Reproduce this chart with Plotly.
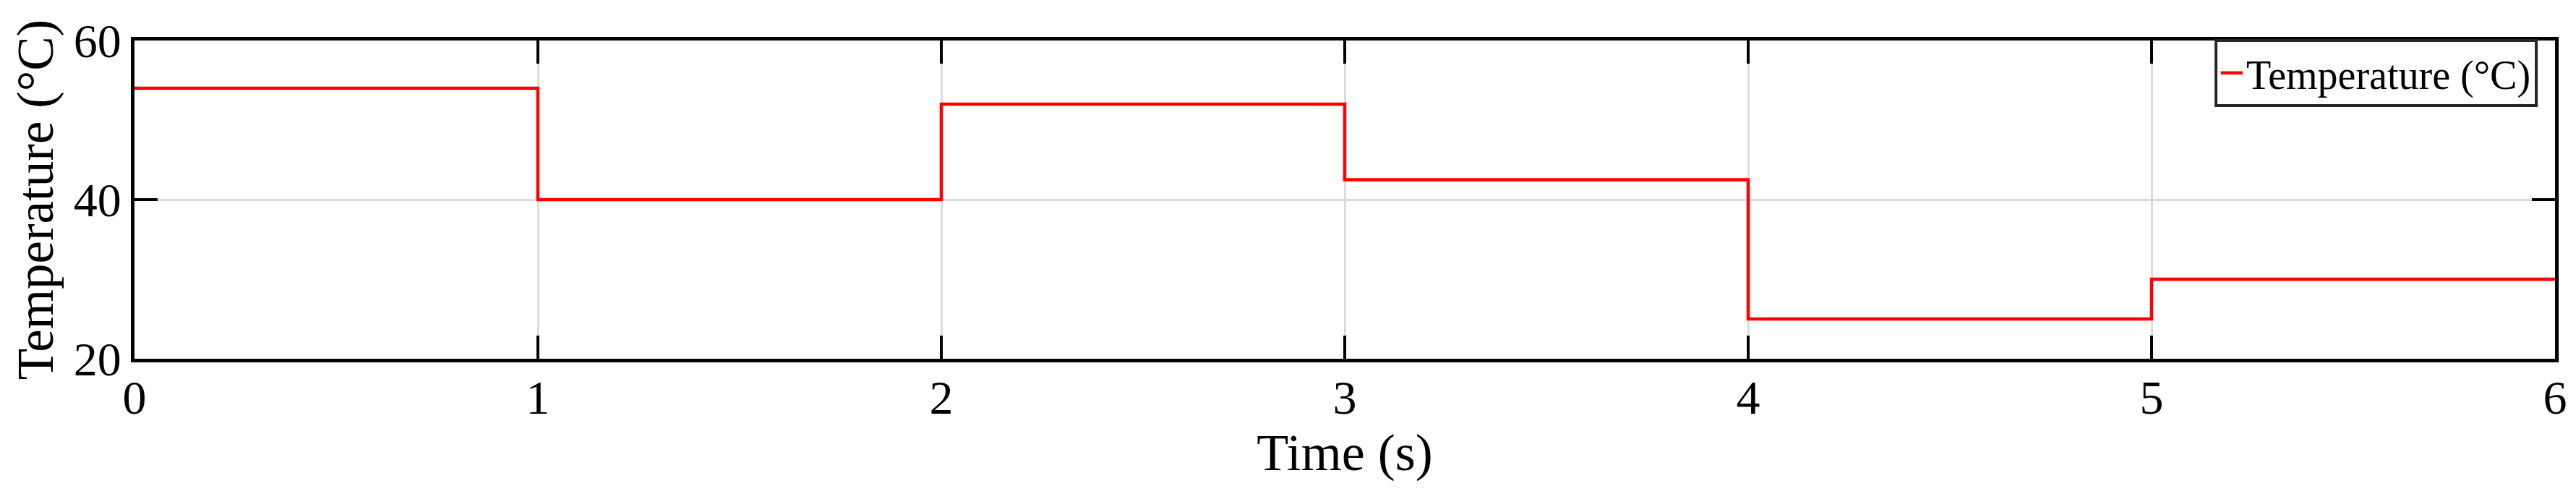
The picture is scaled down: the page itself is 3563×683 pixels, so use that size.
import plotly.graph_objects as go

# step change instants (s) and the temperature held after each one (°C)
time_s = [0, 1, 2, 3, 4, 5, 6]
temp_c = [54, 40, 52, 42.5, 25, 30, 30]

x_ticks = [0, 1, 2, 3, 4, 5, 6]
y_ticks = [20, 40, 60]

FONT = "Liberation Serif, Times New Roman, serif"

fig = go.Figure()
fig.add_trace(go.Scatter(
    x=time_s,
    y=temp_c,
    mode="lines",
    line=dict(color="#ff0000", width=4.5, shape="hv"),
    name="Temperature (°C)",
))

axis_common = dict(
    showline=True,
    linecolor="black",
    linewidth=5,
    mirror="ticks",
    ticks="inside",
    ticklen=32,
    tickwidth=4,
    tickcolor="black",
    showgrid=True,
    gridcolor="#dcdcdc",
    gridwidth=3,
    zeroline=False,
    tickfont=dict(family=FONT, size=66, color="black"),
)

fig.update_xaxes(
    range=[0, 6],
    tickvals=x_ticks,
    ticklabelstandoff=-8,
    title=dict(text="Time (s)", font=dict(family=FONT, size=72, color="black"), standoff=0),
    **axis_common,
)
fig.update_yaxes(
    range=[20, 60],
    tickvals=y_ticks,
    title=dict(text="Temperature (°C)", font=dict(family=FONT, size=71, color="black"), standoff=6),
    **axis_common,
)

fig.update_layout(
    width=3563,
    height=683,
    margin=dict(l=178, r=37, t=45, b=195),
    paper_bgcolor="white",
    plot_bgcolor="white",
    showlegend=True,
    legend=dict(
        x=0.9928,
        y=1.005,
        xanchor="right",
        yanchor="top",
        bgcolor="white",
        bordercolor="#262626",
        borderwidth=4,
        font=dict(family=FONT, size=56, color="black"),
    ),
)

fig.write_html("out.html")
